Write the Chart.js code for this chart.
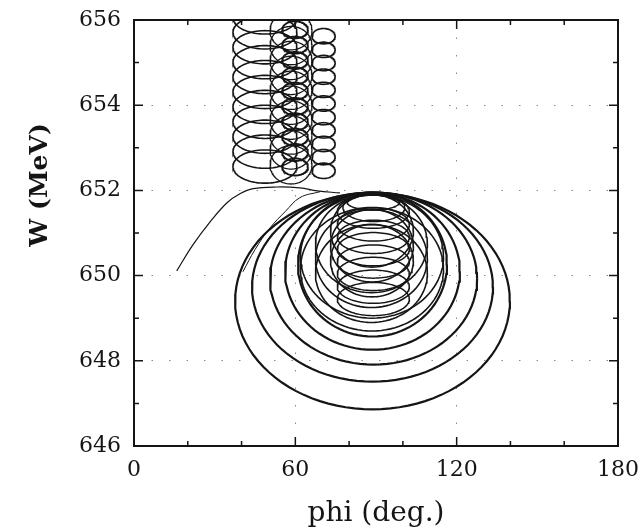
<!DOCTYPE html>
<html>
<head>
<meta charset="utf-8">
<script src="https://cdn.jsdelivr.net/npm/chart.js@4.4.0/dist/chart.umd.min.js"></script>
<style>
  html, body { margin: 0; padding: 0; background: #fff; }
</style>
</head>
<body>
<canvas id="myChart" width="639" height="531"></canvas>
<script>
// axis ticks
const phiTicks = [0, 20, 40, 60, 80, 100, 120, 140, 160, 180];
const wTicks = [646, 647, 648, 649, 650, 651, 652, 653, 654, 655, 656];

// error ellipses, rows of [phi, W, half-width (deg), half-height (MeV)]
const ringsA = [
    [48.7, 652.56, 11.9, 0.39], [48.7, 652.91, 11.9, 0.39], [48.7, 653.26, 11.9, 0.39],
    [48.7, 653.61, 11.9, 0.39], [48.7, 653.96, 11.9, 0.39], [48.7, 654.31, 11.9, 0.39],
    [48.7, 654.66, 11.9, 0.39], [48.7, 655.01, 11.9, 0.39], [48.7, 655.36, 11.9, 0.39],
    [48.7, 655.71, 11.9, 0.39], [48.7, 656.06, 11.9, 0.39]
];
const ringsB = [
    [58.4, 652.60, 7.8, 0.45], [58.4, 652.95, 7.8, 0.45], [58.4, 653.30, 7.8, 0.45],
    [58.4, 653.65, 7.8, 0.45], [58.4, 654.00, 7.8, 0.45], [58.4, 654.35, 7.8, 0.45],
    [58.4, 654.70, 7.8, 0.45], [58.4, 655.05, 7.8, 0.45], [58.4, 655.40, 7.8, 0.45],
    [58.4, 655.75, 7.8, 0.45]
];
const ringsBInner = [
    [59.9, 652.55, 4.8, 0.20], [59.9, 652.89, 4.8, 0.20], [59.9, 653.25, 4.8, 0.20],
    [59.9, 653.61, 4.8, 0.20], [59.9, 653.97, 4.8, 0.20], [59.9, 654.33, 4.8, 0.20],
    [59.9, 654.69, 4.8, 0.20], [59.9, 655.05, 4.8, 0.20], [59.9, 655.41, 4.8, 0.20],
    [59.9, 655.77, 4.8, 0.20]
];
const ringsC = [
    [70.5, 652.46, 4.3, 0.18], [70.5, 652.78, 4.3, 0.18], [70.5, 653.09, 4.3, 0.18],
    [70.5, 653.41, 4.3, 0.18], [70.5, 653.72, 4.3, 0.18], [70.5, 654.04, 4.3, 0.18],
    [70.5, 654.36, 4.3, 0.18], [70.5, 654.67, 4.3, 0.18], [70.5, 654.99, 4.3, 0.18],
    [70.5, 655.30, 4.3, 0.18], [70.5, 655.62, 4.3, 0.18]
];
const ringsBig = [
    [88.7, 649.40, 51.1, 2.54], [88.7, 649.73, 44.8, 2.22], [89.1, 649.93, 38.5, 2.02],
    [88.7, 650.10, 32.5, 1.84], [88.7, 650.26, 27.7, 1.69]
];
const ringsMid = [
    [88.5, 650.45, 26.6, 1.45], [88.5, 650.15, 26.6, 1.45],
    [88.3, 650.75, 20.8, 1.15], [88.3, 650.40, 20.8, 1.15], [88.3, 650.05, 20.8, 1.15],
    [88.5, 651.05, 15.4, 0.85], [88.5, 650.70, 15.4, 0.85], [88.5, 650.35, 15.4, 0.85]
];
const ringsD = [
    [89.0, 651.50, 13.4, 0.39], [89.0, 651.20, 13.4, 0.39], [89.0, 650.91, 13.4, 0.39],
    [89.0, 650.62, 13.4, 0.39], [89.0, 650.33, 13.4, 0.39], [89.0, 650.04, 13.4, 0.39],
    [89.0, 649.74, 13.4, 0.39], [89.0, 649.45, 13.4, 0.39],
    [89.0, 651.72, 9.7, 0.18], [89.2, 651.60, 11.5, 0.33]
];

// trajectory curves
const curvePhi = [15.9, 21.9, 28.3, 34.6, 39.4, 44.3, 53.2, 61.7, 68.1, 76.6];
const curveW = [650.11, 650.72, 651.26, 651.71, 651.92, 652.04, 652.08, 652.06, 651.99, 651.94];
const curve2Phi = [40.5, 45.0, 50.6, 56.2, 61.7, 69.2];
const curve2W = [650.09, 650.61, 651.12, 651.50, 651.83, 651.97];

const ink = '#151515';
const serif = "'DejaVu Serif', serif";

function ellipse(r) {
    const [cx, cy, rx, ry] = r;
    let pts = [];
    for (let i = 0; i <= 96; i++) {
        let t = i / 96 * 2 * Math.PI;
        pts.push({ x: cx + rx * Math.cos(t), y: cy + ry * Math.sin(t) });
    }
    return pts;
}

function ringSets(rings, width) {
    return rings.map(r => ({
        data: ellipse(r),
        showLine: true,
        borderColor: ink,
        borderWidth: width,
        pointRadius: 0,
        tension: 0
    }));
}

function curveSet(phi, w, width) {
    return {
        data: phi.map((p, i) => ({ x: p, y: w[i] })),
        showLine: true,
        borderColor: ink,
        borderWidth: width,
        pointRadius: 0,
        tension: 0.4
    };
}

const datasets = [
    ...ringSets(ringsA, 1.6),
    ...ringSets(ringsB, 1.3),
    ...ringSets(ringsBInner, 1.9),
    ...ringSets(ringsC, 1.6),
    ...ringSets(ringsBig, 2.2),
    ...ringSets(ringsMid, 1.6),
    ...ringSets(ringsD, 1.5),
    curveSet(curvePhi, curveW, 1.2),
    curveSet(curve2Phi, curve2W, 1)
];

// frame, inward ticks on all sides, rotated y title
const frameTicks = {
    id: 'frameTicks',
    afterDatasetsDraw(chart) {
        const { ctx, chartArea: a, scales: { x, y } } = chart;
        ctx.save();
        ctx.strokeStyle = ink;
        ctx.lineWidth = 2;
        ctx.strokeRect(a.left, a.top, a.right - a.left, a.bottom - a.top);
        ctx.lineWidth = 1.5;
        ctx.beginPath();
        for (let v of phiTicks) {
            let px = x.getPixelForValue(v);
            let len = v % 60 === 0 ? 9 : 5;
            ctx.moveTo(px, a.bottom); ctx.lineTo(px, a.bottom - len);
            ctx.moveTo(px, a.top); ctx.lineTo(px, a.top + len);
        }
        for (let v of wTicks) {
            let py = y.getPixelForValue(v);
            let len = v % 2 === 0 ? 9 : 5;
            ctx.moveTo(a.left, py); ctx.lineTo(a.left + len, py);
            ctx.moveTo(a.right, py); ctx.lineTo(a.right - len, py);
        }
        ctx.stroke();

        ctx.translate(40, 185);
        ctx.rotate(-Math.PI / 2);
        ctx.fillStyle = ink;
        ctx.font = "bold 25px " + serif;
        ctx.textAlign = 'center';
        ctx.textBaseline = 'middle';
        ctx.fillText('W (MeV)', 0, 0);
        ctx.restore();
    }
};

const ctx = document.getElementById('myChart');

new Chart(ctx, {
    type: 'scatter',
    data: { datasets: datasets },
    options: {
        responsive: false,
        animation: false,
        layout: { padding: { top: 20, right: 21, left: 0, bottom: 0 } },
        plugins: {
            legend: { display: false },
            tooltip: { enabled: false }
        },
        scales: {
            x: {
                type: 'linear',
                min: 0,
                max: 180,
                afterFit: s => { s.height = 85; s.paddingLeft = 0; s.paddingRight = 0; },
                afterBuildTicks: s => { s.ticks = phiTicks.map(v => ({ value: v })); },
                ticks: {
                    autoSkip: false,
                    maxRotation: 0,
                    padding: 11,
                    color: ink,
                    font: { family: serif, size: 22 },
                    callback: v => (v % 60 === 0 ? String(v) : '')
                },
                grid: {
                    drawTicks: false,
                    lineWidth: 1,
                    color: c => (c.tick && (c.tick.value === 60 || c.tick.value === 120)) ? '#8a8a8a' : 'rgba(0,0,0,0)'
                },
                border: { display: false, dash: [1.5, 16] },
                title: {
                    display: true,
                    text: 'phi (deg.)',
                    color: ink,
                    font: { family: serif, size: 28 },
                    padding: { top: 6, bottom: 0 }
                }
            },
            y: {
                type: 'linear',
                min: 646,
                max: 656,
                afterFit: s => { s.width = 134; s.paddingTop = 0; s.paddingBottom = 0; },
                afterBuildTicks: s => { s.ticks = wTicks.map(v => ({ value: v })); },
                ticks: {
                    autoSkip: false,
                    padding: 13,
                    color: ink,
                    font: { family: serif, size: 22 },
                    callback: v => (v % 2 === 0 ? String(v) : '')
                },
                grid: {
                    drawTicks: false,
                    lineWidth: 1,
                    color: c => (c.tick && c.tick.value % 2 === 0 && c.tick.value > 646 && c.tick.value < 656) ? '#8a8a8a' : 'rgba(0,0,0,0)'
                },
                border: { display: false, dash: [1.5, 16] }
            }
        }
    },
    plugins: [frameTicks]
});
</script>
</body>
</html>
